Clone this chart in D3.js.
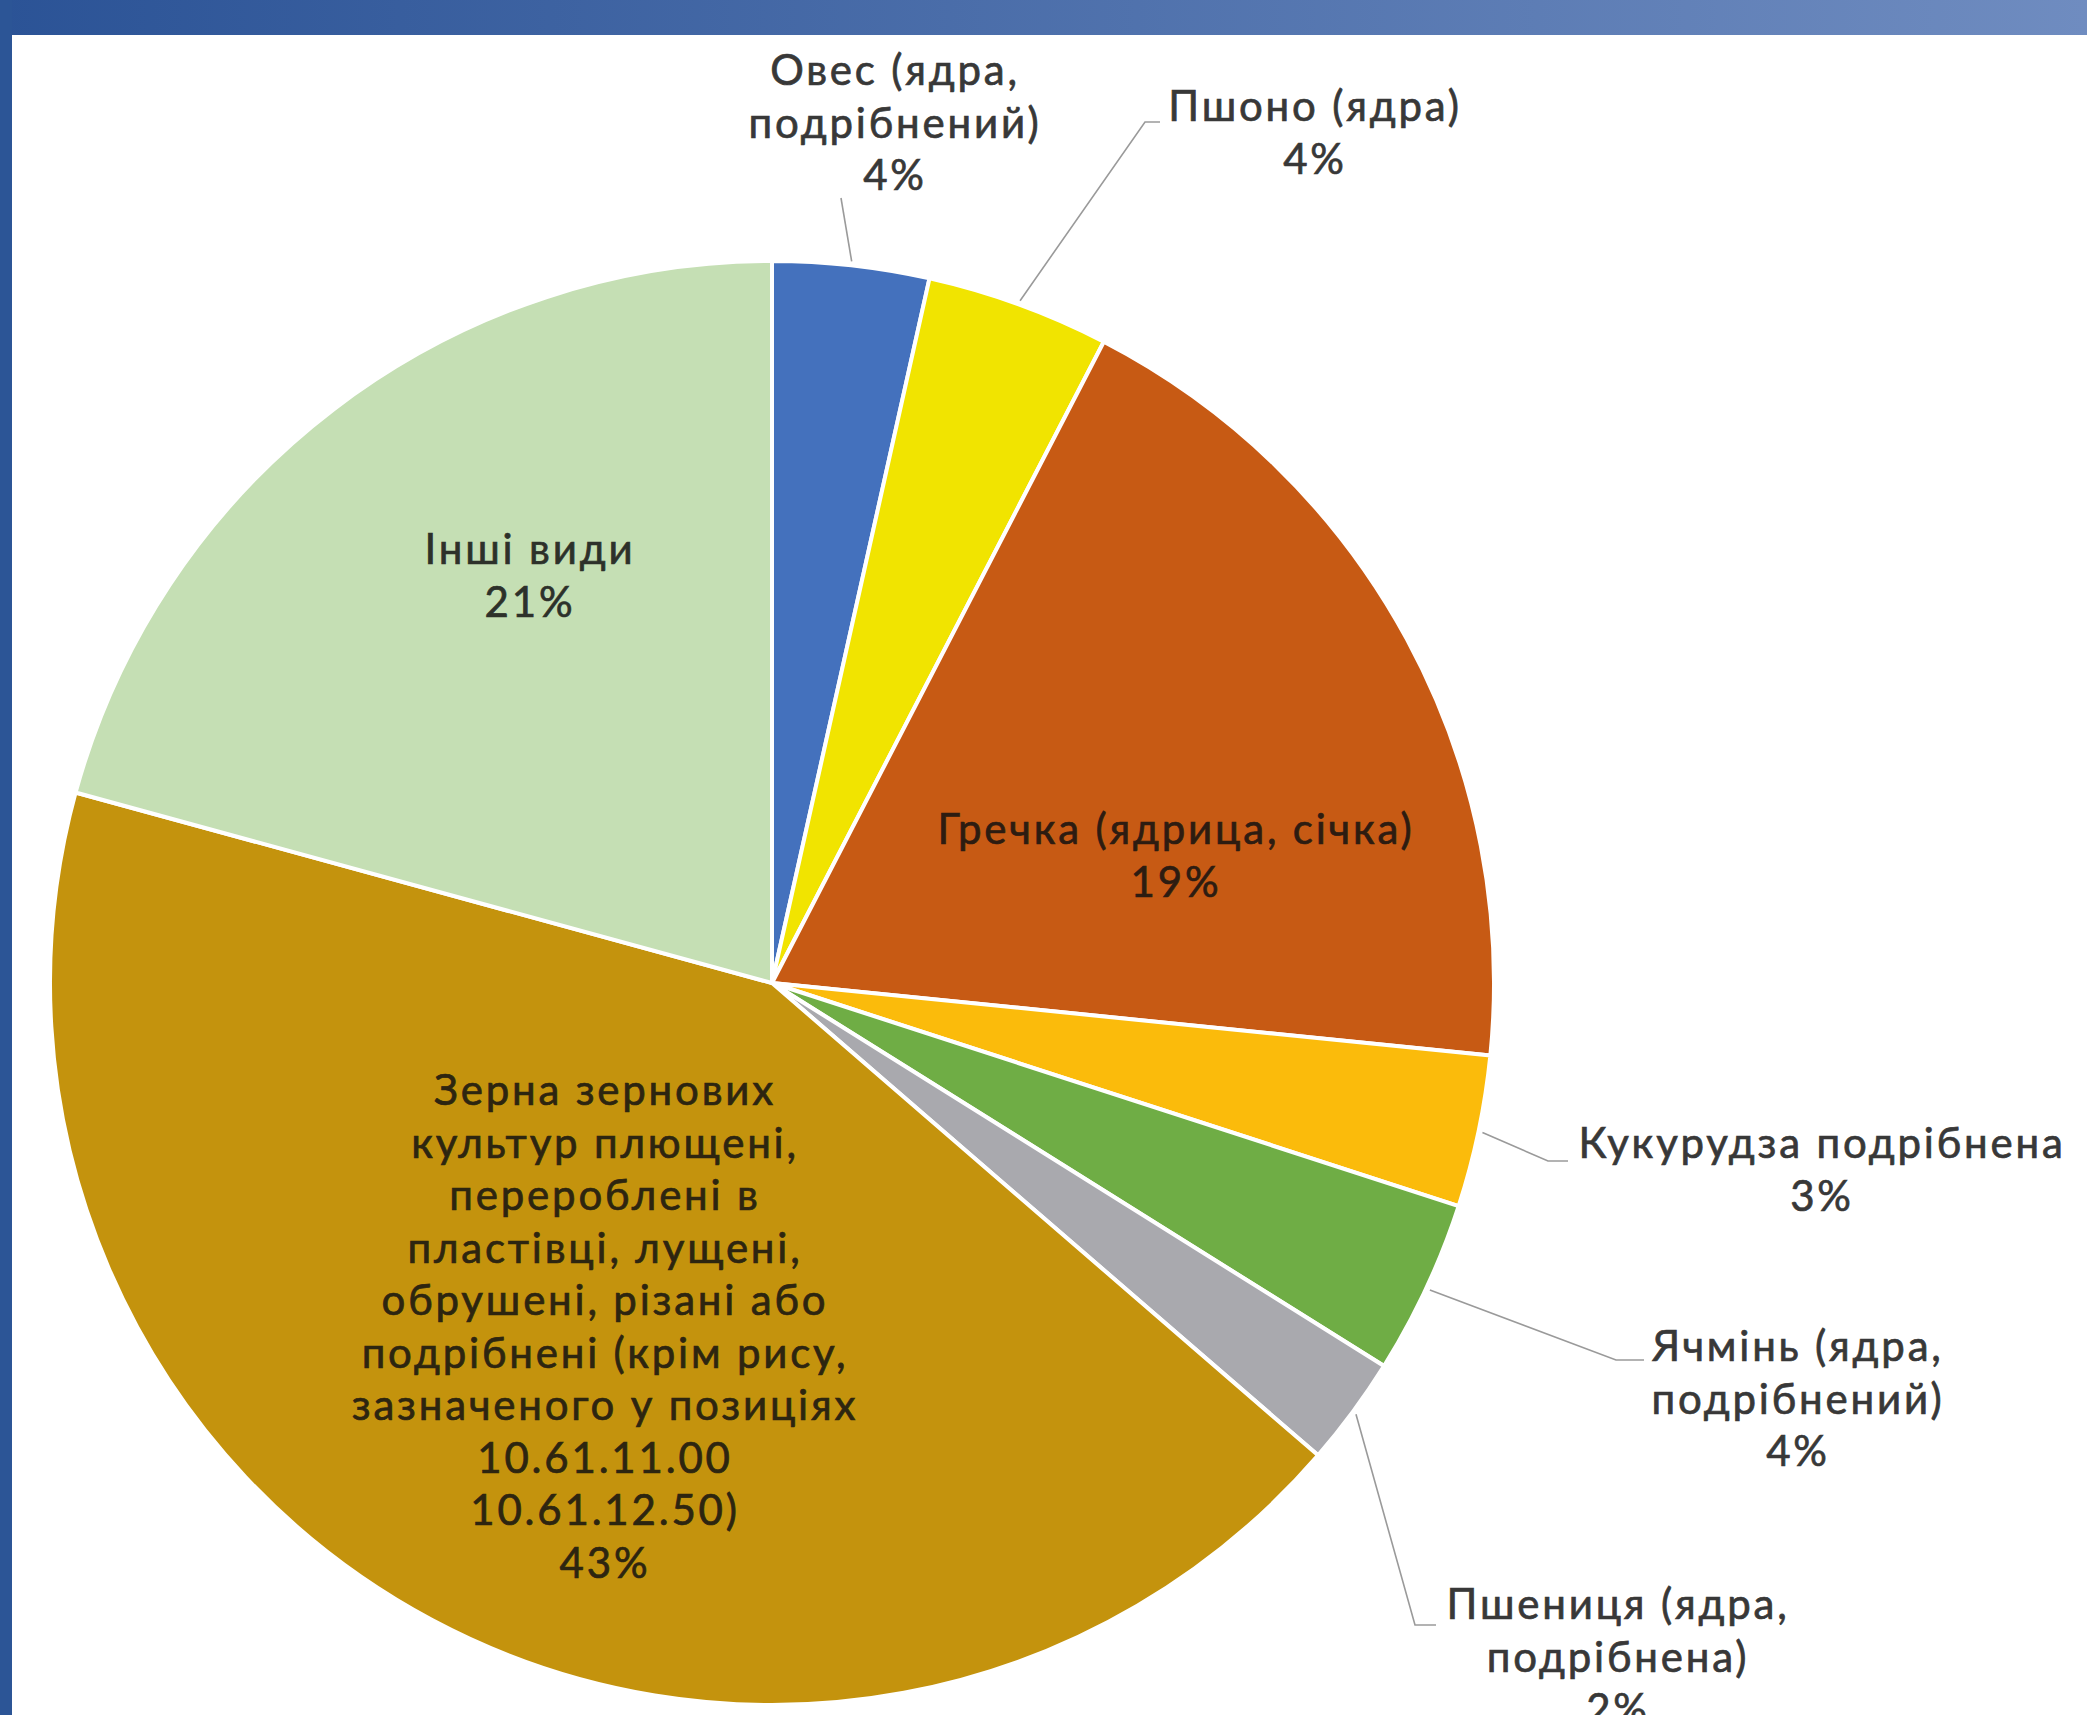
<!DOCTYPE html>
<html>
<head>
<meta charset="utf-8">
<script src="https://cdn.jsdelivr.net/npm/d3@7"></script>
<style>
  html, body { margin: 0; padding: 0; background: #ffffff; }
  svg { display: block; }
</style>
</head>
<body>
<svg id="chart" width="2087" height="1715"></svg>
<script>
// ---------------- DATA ----------------
const categories = [
  "Овес (ядра, подрібнений)",
  "Пшоно (ядра)",
  "Гречка (ядрица, січка)",
  "Кукурудза подрібнена",
  "Ячмінь (ядра, подрібнений)",
  "Пшениця (ядра, подрібнена)",
  "Зерна зернових культур плющені, перероблені в пластівці, лущені, обрушені, різані або подрібнені (крім рису, зазначеного у позиціях 10.61.11.00 10.61.12.50)",
  "Інші види"
];
const values = [3.5, 4.1, 19.0, 3.4, 3.9, 2.45, 42.9, 20.75];
const labelLines = [
  ["Овес (ядра,", "подрібнений)"],
  ["Пшоно (ядра)"],
  ["Гречка (ядрица, січка)"],
  ["Кукурудза подрібнена"],
  ["Ячмінь (ядра,", "подрібнений)"],
  ["Пшениця (ядра,", "подрібнена)"],
  ["Зерна зернових", "культур плющені,", "перероблені в", "пластівці, лущені,", "обрушені, різані або", "подрібнені (крім рису,", "зазначеного у позиціях", "10.61.11.00", "10.61.12.50)"],
  ["Інші види"]
];

// ---------------- STYLE / LAYOUT ----------------
const colors = ["#4471bd", "#f1e400", "#c75a14", "#fbbb0b", "#6fad45", "#a9a9ae", "#c4930d", "#c5dfb4"];
const W = 2087, H = 1715;
const cx = 772, cy = 983, R = 722;
const fontSize = 42, lineH = 52.5;
// label block placement: center x, center y of first line, inside flag
const labelPos = [
  { x: 895,  y: 70,   inside: false },
  { x: 1315, y: 106,  inside: false },
  { x: 1176, y: 829,  inside: true  },
  { x: 1822, y: 1143, inside: false },
  { x: 1798, y: 1346, inside: false },
  { x: 1618, y: 1604, inside: false },
  { x: 605,  y: 1090, inside: true  },
  { x: 530,  y: 549,  inside: true  }
];
// leader line waypoints (after the start point on the pie edge)
const leaders = [
  [[841, 198]],
  [[1145, 122], [1160, 122]],
  null,
  [[1548, 1161], [1568, 1161]],
  [[1616, 1360], [1644, 1360]],
  [[1415, 1625], [1436, 1625]],
  null,
  null
];

const svg = d3.select("#chart");

// background frame
const defs = svg.append("defs");
const grad = defs.append("linearGradient").attr("id", "topband")
  .attr("x1", "0%").attr("x2", "100%").attr("y1", "0%").attr("y2", "0%");
grad.append("stop").attr("offset", "0%").attr("stop-color", "#2b5396");
grad.append("stop").attr("offset", "100%").attr("stop-color", "#6f8cc0");

svg.append("rect").attr("x", 0).attr("y", 0).attr("width", W).attr("height", H).attr("fill", "#ffffff");
svg.append("rect").attr("x", 0).attr("y", 0).attr("width", W).attr("height", 35).attr("fill", "url(#topband)");
svg.append("rect").attr("x", 0).attr("y", 0).attr("width", 12).attr("height", H).attr("fill", "#2c5596");

// pie
const data = categories.map((c, i) => ({ name: c, value: values[i], i }));
const total = d3.sum(values);
const pie = d3.pie().value(d => d.value).sort(null);
const arcs = pie(data);
const arc = d3.arc().innerRadius(0).outerRadius(R);
const edgeArc = d3.arc().innerRadius(R + 4).outerRadius(R + 4);

const g = svg.append("g").attr("transform", `translate(${cx},${cy})`);
g.selectAll("path.slice").data(arcs).enter().append("path")
  .attr("class", "slice")
  .attr("d", arc)
  .attr("fill", d => colors[d.data.i])
  .attr("stroke", "#ffffff")
  .attr("stroke-width", 4)
  .attr("stroke-linejoin", "round");

// leader lines
arcs.forEach(a => {
  const pts = leaders[a.data.i];
  if (!pts) return;
  const s = edgeArc.centroid(a);
  const all = [[s[0] + cx, s[1] + cy]].concat(pts);
  svg.append("path")
    .attr("d", d3.line()(all))
    .attr("fill", "none")
    .attr("stroke", "#9a9a9a")
    .attr("stroke-width", 1.6);
});

// labels
const fonts = "Lato, 'Open Sans', 'DejaVu Sans', sans-serif";
arcs.forEach(a => {
  const i = a.data.i;
  const p = labelPos[i];
  const pct = Math.round(a.data.value / total * 100) + "%";
  const lines = labelLines[i].concat([pct]);
  const col = p.inside ? d3.interpolateRgb(colors[i], "#101010")(0.84) : "#383838";
  const t = svg.append("text")
    .attr("text-anchor", "middle")
    .attr("font-family", fonts)
    .attr("font-size", fontSize)
    .attr("letter-spacing", "2.8px")
    .attr("fill", col)
    .attr("stroke", col)
    .attr("stroke-width", 0.7);
  lines.forEach((ln, k) => {
    t.append("tspan")
      .attr("x", p.x)
      .attr("y", p.y + k * lineH)
      .attr("dy", "0.36em")
      .text(ln);
  });
});
</script>
</body>
</html>
